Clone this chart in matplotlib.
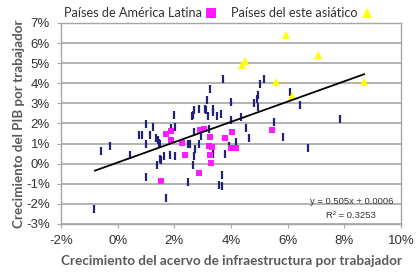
import matplotlib
matplotlib.use("Agg")
import matplotlib.pyplot as plt
from matplotlib.lines import Line2D

# Data (percent units)
other_x = [-0.84, -0.60, -0.27, 0.43, 0.76, 0.85, 0.99, 1.00, 1.00, 1.14, 1.23, 1.35, 1.43, 1.47,
           1.49, 1.38, 1.49, 1.52, 1.63, 1.85, 2.02, 1.70, 1.87, 2.02, 2.00, 2.49, 2.73, 2.70,
           2.67, 2.87, 2.49, 2.94, 2.61, 2.67, 2.69, 2.88, 3.08, 3.11, 3.14, 3.26, 3.35, 3.37,
           3.52, 3.63, 3.20, 3.71, 3.99, 4.00, 4.34, 4.52, 4.82, 4.90, 4.96, 5.02, 5.17, 4.96,
           5.52, 6.08, 6.43, 7.85, 5.82, 4.65, 3.37, 3.35, 3.67, 3.58, 3.67, 3.79, 3.94, 4.18,
           6.73, 2.70, 3.22, 2.56]
other_y = [-2.24, 0.61, 0.86, 0.41, 1.41, 1.41, 0.99, 1.96, -0.67, 1.41, 1.82, 1.27, 1.16, 1.02,
           1.00, -0.05, 0.25, 0.16, 0.38, 0.41, 0.36, -1.71, 1.77, 1.82, 2.44, 0.99, 0.75, 0.36,
           -0.05, 0.96, -0.91, 1.36, 2.35, 2.40, 2.65, 2.74, 2.74, 2.65, 3.18, 3.73, 2.74, 2.57,
           2.35, 2.49, 2.35, 4.23, 3.06, 2.19, 2.32, 1.77, 3.03, 3.23, 3.43, 3.98, 4.23, 2.82,
           2.07, 3.56, 2.94, 2.20, 1.32, 1.29, 0.66, 0.46, -0.58, -1.08, -1.13, 0.50, 0.86, 1.07,
           0.80, 1.57, 1.75, 1.00]

latam_x = [1.69, 1.88, 1.88, 2.28, 2.37, 2.90, 3.04, 3.27, 3.24, 3.33, 3.26, 3.29, 2.88, 1.53,
           3.79, 4.05, 3.99, 4.18, 5.46]
latam_y = [1.49, 1.61, 1.18, 1.02, 0.41, 1.67, 1.74, 1.32, 0.90, 0.82, 0.41, 0.03, -0.45, -0.88,
           1.29, 1.57, 0.80, 0.80, 1.66]

asia_x = [4.40, 4.49, 5.93, 7.06, 5.59, 6.15, 8.70]
asia_y = [4.93, 5.09, 6.42, 5.39, 4.06, 3.36, 4.06]

slope = 0.505
intercept = 0.06  # percent (0.0006)
trend_x = [-0.8, 8.7]

x_ticks = [-2, 0, 2, 4, 6, 8, 10]
y_ticks = [-3, -2, -1, 0, 1, 2, 3, 4, 5, 6, 7]

legend_labels = ["Países de América Latina", "Países del este asiático"]
xlabel = "Crecimiento del acervo de infraestructura por trabajador"
ylabel = "Crecimiento del PIB por trabajador"
eq_text = "y = 0.505x + 0.0006"
r2_text = "R² = 0.3253"

fig = plt.figure(figsize=(4.19, 2.77), dpi=100)
ax = fig.add_axes([61/419, 1-224/277, 340/419, 201/277])

ax.set_xlim(-2, 10)
ax.set_ylim(-3, 7)
ax.set_xticks(x_ticks)
ax.set_yticks(y_ticks)
ax.set_xticklabels([f"{t}%" for t in x_ticks], fontfamily="Liberation Sans", fontsize=9.5, color="#333333")
ax.set_yticklabels([f"{t}%" for t in y_ticks], fontfamily="Liberation Sans", fontsize=9.5, color="#333333")
ax.yaxis.grid(True, color="#a6a6a6", linewidth=1.2)
ax.set_axisbelow(True)
for s in ax.spines.values():
    s.set_color("#a6a6a6")
    s.set_linewidth(1.0)
ax.tick_params(axis="both", direction="out", length=3, color="#a6a6a6")
ax.tick_params(axis="x", pad=5)
ax.tick_params(axis="y", pad=5)

ax.plot(other_x, other_y, linestyle="none", marker="|", markersize=5.5, markeredgewidth=1.6,
        color="#22227a", zorder=3)
ax.plot(latam_x, latam_y, linestyle="none", marker="s", markersize=4.8, color="#ff1aff",
        markeredgewidth=0, zorder=4)
ax.plot(asia_x, asia_y, linestyle="none", marker="^", markersize=5.5, color="#ffff00",
        markeredgewidth=0, zorder=4)
ax.plot(trend_x, [slope * v + intercept for v in trend_x], color="black", linewidth=1.3, zorder=5)

ax.text(393/419, 1-201/277, eq_text, transform=fig.transFigure, ha="right", va="center",
        fontsize=6.8, fontfamily="Liberation Sans", color="#333333")
ax.text(376/419, 1-215/277, r2_text, transform=fig.transFigure, ha="right", va="center",
        fontsize=6.8, fontfamily="Liberation Sans", color="#333333")

ax.set_xlabel(xlabel, fontfamily="Lato", fontweight="bold", fontsize=9.7, color="#595959", labelpad=5.5)
ax.set_ylabel(ylabel, fontfamily="Lato", fontweight="bold", fontsize=9.6, color="#595959", labelpad=0.5)

handles = [Line2D([], [], linestyle="none", marker="s", markersize=6.5, color="#ff1aff", markeredgewidth=0),
           Line2D([], [], linestyle="none", marker="^", markersize=7.5, color="#ffff00", markeredgewidth=0)]
fig.legend(handles, legend_labels, loc="center", bbox_to_anchor=(218/419, 1-13/277), ncol=2,
           frameon=False, markerfirst=False, prop={"family": "Lato", "size": 9.2},
           handlelength=0.8, handletextpad=0.3, columnspacing=1.2, labelcolor="#333333")

fig.savefig("out.png", dpi=100)
